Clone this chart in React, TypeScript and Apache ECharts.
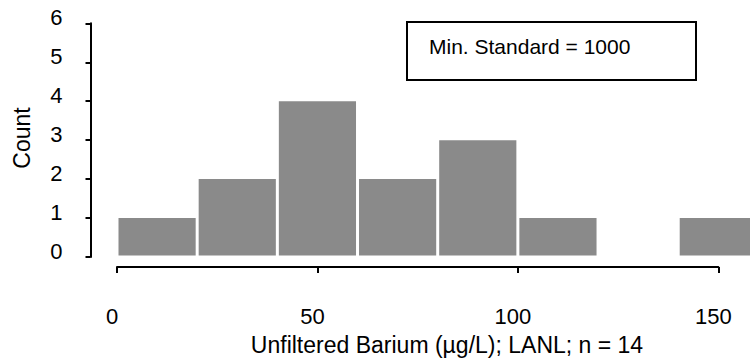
import React, { useEffect, useRef } from "react";
import * as echarts from "echarts";

const binStarts = [0, 20, 40, 60, 80, 100, 120, 140];
const binWidth = 20;
const counts = [1, 2, 4, 2, 3, 1, 0, 1];
const xTicks = [0, 50, 100, 150];
const yTicks = [0, 1, 2, 3, 4, 5, 6];
const boxText = "Min. Standard = 1000";
const xTitle = "Unfiltered Barium (\u00b5g/L); LANL; n = 14";
const yTitle = "Count";

const FONT = "'Liberation Sans', Arial, Helvetica, sans-serif";

export default function App() {
  const ref = useRef<HTMLDivElement>(null);
  useEffect(() => {
    if (!ref.current) return;
    const chart = echarts.init(ref.current, null, { renderer: "svg" });
    const data = binStarts.map((s, i) => [s, s + binWidth, counts[i]]);
    chart.setOption({
      animation: false,
      backgroundColor: "#ffffff",
      textStyle: { fontFamily: FONT },
      grid: { left: 117, top: 23.3, width: 601.3, height: 233.7, containLabel: false },
      xAxis: {
        type: "value",
        min: xTicks[0],
        max: xTicks[xTicks.length - 1],
        interval: 50,
        offset: 10,
        axisLine: { show: true, onZero: false, lineStyle: { color: "#000", width: 2 } },
        axisTick: { show: true, length: 6, lineStyle: { color: "#000", width: 2 } },
        axisLabel: {
          color: "#000",
          fontSize: 22,
          margin: 38,
          fontFamily: FONT,
          formatter: (v: number) => `{v|${v}}{s|}`,
          rich: {
            v: { fontSize: 22, color: "#000", fontFamily: FONT },
            s: { width: 10 },
          },
        },
        splitLine: { show: false },
      },
      yAxis: {
        type: "value",
        min: yTicks[0],
        max: yTicks[yTicks.length - 1],
        interval: 1,
        offset: 26.5,
        axisLine: { show: true, onZero: false, lineStyle: { color: "#000", width: 2 } },
        axisTick: { show: true, length: 5, lineStyle: { color: "#000", width: 2 } },
        axisLabel: {
          color: "#000",
          fontSize: 22,
          margin: 28,
          fontFamily: FONT,
          verticalAlign: "bottom",
          lineHeight: 12,
        },
        splitLine: { show: false },
      },
      series: [
        {
          type: "custom",
          clip: false,
          data,
          encode: { x: [0, 1], y: 2 },
          renderItem: (params: any, api: any) => {
            const x0 = api.value(0);
            const x1 = api.value(1);
            const c = api.value(2);
            if (!c) return null;
            const p0 = api.coord([x0, c]);
            const p1 = api.coord([x1, 0]);
            return {
              type: "rect",
              shape: {
                x: p0[0] + 1.5,
                y: p0[1],
                width: p1[0] - p0[0] - 3,
                height: p1[1] - p0[1] - 1.5,
              },
              style: { fill: "#8a8a8a" },
            };
          },
        },
      ],
      graphic: [
        {
          type: "rect",
          shape: { x: 407, y: 22, width: 289, height: 58 },
          style: { fill: "#fff", stroke: "#000", lineWidth: 2 },
        },
        {
          type: "text",
          x: 429,
          y: 46,
          style: { text: boxText, font: `21px ${FONT}`, fill: "#000", verticalAlign: "middle", align: "left" },
        },
        {
          type: "text",
          x: 447,
          y: 345,
          style: { text: xTitle, font: `23px ${FONT}`, fill: "#000", verticalAlign: "middle", align: "center" },
        },
        {
          type: "text",
          x: 22,
          y: 138,
          rotation: Math.PI / 2,
          style: { text: yTitle, font: `23px ${FONT}`, fill: "#000", verticalAlign: "middle", align: "center" },
        },
      ],
    });
    return () => chart.dispose();
  }, []);
  return (
    <div
      ref={ref}
      style={{ position: "absolute", left: 0, top: 0, width: 750, height: 364, background: "#fff" }}
    />
  );
}
